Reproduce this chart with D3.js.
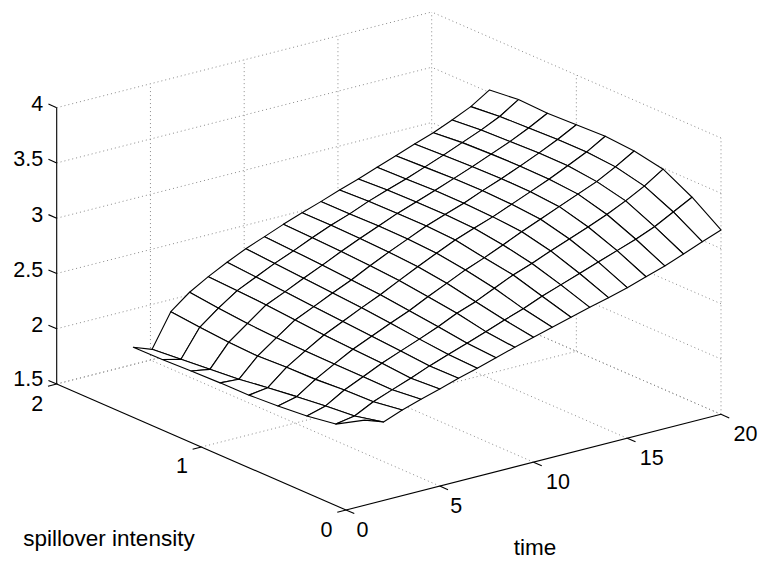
<!DOCTYPE html>
<html><head><meta charset="utf-8">
<script src="https://cdn.jsdelivr.net/npm/d3@7"></script>
<style>
body{margin:0;background:#fff}
svg{display:block}
text{font-family:"Liberation Sans",Arial,Helvetica,sans-serif;fill:#000}
</style>
</head><body>
<svg id="chart" width="764" height="562"></svg>
<script>
// ---- data ----
const timeValues = [1,2,3,4,5,6,7,8,9,10,11,12,13,14,15,16,17,18,19,20];
const spillValues = [0,0.2,0.4,0.6,0.8,1.0,1.2,1.4,1.6];
// surface height over time, one array per spillover intensity
const zSpill00 = [2.27,2.21,2.275,2.329,2.379,2.432,2.479,2.532,2.582,2.63,2.677,2.724,2.771,2.815,2.862,2.918,2.972,3.037,3.105,3.168];
const zSpill02 = [2.12,2.15,2.236,2.30,2.362,2.43,2.49,2.548,2.61,2.672,2.73,2.80,2.86,2.92,2.98,3.04,3.10,3.17,3.26,3.35];
const zSpill04 = [2.08,2.127,2.228,2.305,2.383,2.45,2.515,2.584,2.662,2.724,2.802,2.879,2.94,3.01,3.075,3.14,3.21,3.29,3.38,3.49];
const zSpill06 = [2.055,2.097,2.21,2.305,2.396,2.47,2.545,2.615,2.698,2.776,2.854,2.92,2.993,3.07,3.14,3.21,3.28,3.35,3.44,3.54];
const zSpill08 = [2.04,2.064,2.205,2.31,2.411,2.49,2.57,2.645,2.73,2.812,2.891,2.968,3.03,3.09,3.16,3.23,3.30,3.38,3.46,3.56];
const zSpill10 = [2.037,2.026,2.193,2.315,2.433,2.51,2.59,2.665,2.75,2.83,2.905,2.98,3.04,3.10,3.17,3.235,3.305,3.38,3.46,3.55];
const zSpill12 = [2.03,2.002,2.203,2.33,2.455,2.53,2.61,2.685,2.765,2.84,2.91,2.98,3.04,3.10,3.165,3.23,3.30,3.37,3.45,3.54];
const zSpill14 = [2.02,1.979,2.225,2.355,2.47,2.55,2.63,2.70,2.775,2.845,2.905,2.975,3.035,3.09,3.155,3.22,3.29,3.36,3.44,3.55];
const zSpill16 = [2.017,1.955,2.252,2.385,2.483,2.57,2.649,2.715,2.783,2.845,2.902,2.964,3.02,3.083,3.144,3.207,3.266,3.338,3.415,3.523];
const zColumns = [zSpill00,zSpill02,zSpill04,zSpill06,zSpill08,zSpill10,zSpill12,zSpill14,zSpill16];

const timeTicks = [0,5,10,15,20];
const spillTicks = [0,1,2];
const zTicks = [1.5,2,2.5,3,3.5,4];
const zTickLabels = ["1.5","2","2.5","3","3.5","4"];

// ---- projection (orthographic, MATLAB-like view) ----
const tScale = d3.scaleLinear().domain([0,20]).range([0,1]);
const sScale = d3.scaleLinear().domain([0,2]).range([0,1]);
const zScale = d3.scaleLinear().domain([1.5,4]).range([0,1]);
const O = [346,510], TX = [375,-95.7], SX = [-289.3,-126], ZH = 276.3;
function proj(t,s,z){
  const a=tScale(t), b=sScale(s), c=zScale(z);
  return [O[0]+a*TX[0]+b*SX[0], O[1]+a*TX[1]+b*SX[1]-c*ZH];
}
function unit(v){const l=Math.hypot(v[0],v[1]);return [v[0]/l,v[1]/l];}

const svg = d3.select("#chart");
const line = d3.line();

// ---- grid (dotted) ----
const gridSegs = [];
zTicks.forEach(z=>{ gridSegs.push([[0,2,z],[20,2,z]]); gridSegs.push([[20,0,z],[20,2,z]]); });
timeTicks.filter(t=>t>0).forEach(t=>{ gridSegs.push([[t,2,1.5],[t,2,4]]); gridSegs.push([[t,0,1.5],[t,2,1.5]]); });
spillTicks.filter(s=>s<2).forEach(s=>{ gridSegs.push([[20,s,1.5],[20,s,4]]); });
spillTicks.filter(s=>s>0).forEach(s=>{ gridSegs.push([[0,s,1.5],[20,s,1.5]]); });
svg.append("g").selectAll("path").data(gridSegs).join("path")
  .attr("d",d=>line(d.map(p=>proj(...p))))
  .attr("fill","none").attr("stroke","#8a8a8a").attr("stroke-width",1)
  .attr("stroke-dasharray","1,3");

// ---- surface (mesh, painter's order) ----
const cells = [];
for(let i=0;i<timeValues.length-1;i++){
  for(let j=0;j<spillValues.length-1;j++){
    const pts = [[i,j],[i+1,j],[i+1,j+1],[i,j+1]].map(([a,b])=>proj(timeValues[a],spillValues[b],zColumns[b][a]));
    const tc=(timeValues[i]+timeValues[i+1])/2, sc=(spillValues[j]+spillValues[j+1])/2;
    cells.push({pts, depth: 286.7*tScale(tc)+378.3*sScale(sc)});
  }
}
cells.sort((a,b)=>b.depth-a.depth);
svg.append("g").selectAll("path").data(cells).join("path")
  .attr("d",d=>line(d.pts)+"Z")
  .attr("fill","#fff").attr("stroke","#000").attr("stroke-width",1.1)
  .attr("stroke-linejoin","round");

// ---- axes ----
const axG = svg.append("g").attr("stroke","#000").attr("stroke-width",1.1).attr("fill","none");
[[[0,2,1.5],[0,2,4]],[[0,0,1.5],[0,2,1.5]],[[0,0,1.5],[20,0,1.5]]].forEach(seg=>{
  axG.append("path").attr("d",line(seg.map(p=>proj(...p))));
});
const TL = 9;
const dS = unit(SX), dNegT = unit([-TX[0],-TX[1]]), dNegS = unit([-SX[0],-SX[1]]);
const fs = 21.5;
const lab = svg.append("g").attr("font-size",fs);
// z ticks
zTicks.forEach((z,k)=>{
  const p = proj(0,2,z);
  axG.append("path").attr("d",line([p,[p[0]+dS[0]*TL,p[1]+dS[1]*TL]]));
  lab.append("text").attr("x",p[0]-13.5).attr("y",p[1]-(z===1.5?5:3.5)).attr("text-anchor","end")
    .attr("dominant-baseline","central").text(zTickLabels[k]);
});
// spill ticks
spillTicks.forEach(s=>{
  const p = proj(0,s,1.5);
  axG.append("path").attr("d",line([p,[p[0]+dNegT[0]*TL,p[1]+dNegT[1]*TL]]));
  lab.append("text").attr("x",p[0]-13.5).attr("y",p[1]+(s===2?20:20-1.5*s)).attr("text-anchor","end")
    .attr("dominant-baseline","central").text(String(s));
});
// time ticks
timeTicks.forEach(t=>{
  const p = proj(t,0,1.5);
  axG.append("path").attr("d",line([p,[p[0]+dNegS[0]*TL,p[1]+dNegS[1]*TL]]));
  lab.append("text").attr("x",p[0]+(t<10?10.5:12.5)).attr("y",p[1]+20).attr("text-anchor","start")
    .attr("dominant-baseline","central").text(String(t));
});
// axis titles
lab.append("text").attr("x",109).attr("y",546).attr("text-anchor","middle").attr("font-size",22.5).text("spillover intensity");
lab.append("text").attr("x",535).attr("y",555).attr("text-anchor","middle").attr("font-size",22.5).text("time");
</script>
</body></html>
